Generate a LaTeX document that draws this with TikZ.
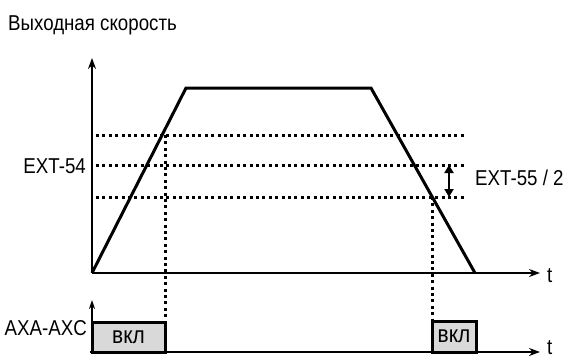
\documentclass[tikz,border=0pt]{standalone}
\usepackage{fontspec}
\setmainfont{Liberation Sans}[FakeStretch=0.87]
\usetikzlibrary{arrows.meta}
\begin{document}
\begin{tikzpicture}[x=1pt,y=-1pt,
  lbl/.style={inner sep=0pt,font=\fontsize{21.5}{21.5}\selectfont},
  axis/.style={line width=2.6pt,-{Stealth[length=11pt,width=8pt]}},
  curve/.style={line width=3pt,line join=miter},
  dotline/.style={line width=3pt,dash pattern=on 3pt off 3.4pt},
  onbox/.style={draw,line width=3pt,fill=black!15,inner sep=0pt,
    font=\fontsize{24}{24}\selectfont}]
\useasboundingbox (0,0) rectangle (568,359);
% coordinates
\coordinate (O) at (92,273);
\coordinate (Ytop) at (92,58);
\coordinate (Xend) at (540,273);
\coordinate (P1) at (186,88);
\coordinate (P2) at (371,88);
\coordinate (P3) at (475,273);
\coordinate (L1a) at (96,135); \coordinate (L1b) at (466,135);
\coordinate (L2a) at (96,165); \coordinate (L2b) at (466,165);
\coordinate (L3a) at (96,197); \coordinate (L3b) at (466,197);
\coordinate (C1) at (165,135);
\coordinate (C2) at (432,197);
\coordinate (Da) at (449,165);
\coordinate (Db) at (449,197);
\coordinate (B0) at (90,352);
\coordinate (Bend) at (540,352);
\coordinate (Bax) at (92,352);
\coordinate (Btop) at (92,300);
% dotted levels
\draw[dotline] (L1a) -- (L1b);
\draw[dotline] (L2a) -- (L2b);
\draw[dotline] (L3a) -- (L3b);
% boxes
\node[onbox,minimum width=73pt,minimum height=30pt] (box1) at (128.5,337) {вкл};
\node[onbox,minimum width=44pt,minimum height=31pt] (box2) at (454,336.5) {вкл};
% vertical dotted projections
\draw[dotline] (C1) -- (C1 |- box1.north);
\draw[dotline] (C2) -- (C2 |- box2.north);
% axes
\draw[axis] (O) -- (Ytop);
\draw[axis] (O) -- (Xend);
\draw[axis] (B0) -- (Bend);
\draw[line width=2pt,-{Stealth[length=9pt,width=6pt]}] (Bax) -- (Btop);
% speed curve
\draw[curve] (O) -- (P1) -- (P2) -- (P3);
% hysteresis arrow
\draw[line width=2pt,{Triangle[length=8pt,width=9pt]}-{Triangle[length=8pt,width=9pt]}] (Da) -- (Db);
% labels
\node[lbl,anchor=base west] (title) at (8,30) {Выходная скорость};
\node[lbl,anchor=base east] (ext54) at (86,173) {EXT-54};
\node[lbl,anchor=base west] (ext55) at (475,185) {EXT-55 / 2};
\node[lbl,anchor=base east] (axa) at (87,335) {AXA-AXC};
\node[lbl,anchor=base west] (t1) at (547,282) {t};
\node[lbl,anchor=base west] (t2) at (547,354) {t};
\end{tikzpicture}
\end{document}
